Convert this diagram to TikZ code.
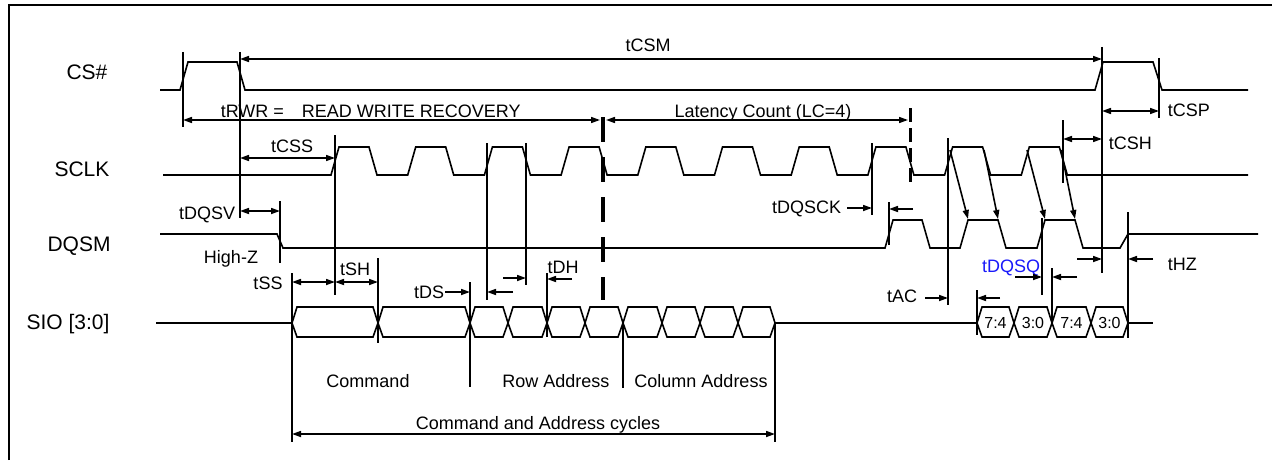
\documentclass[tikz,border=0pt]{standalone}
\usepackage{fontspec}
\setmainfont{Liberation Sans}
\usetikzlibrary{arrows.meta}
\definecolor{dqsqblue}{RGB}{25,25,250}

\newcommand{\sioword}[3]{%
  \draw (#1,323) -- (#1+5,307) -- (#2-5,307) -- (#2,323) -- (#2-5,337) -- (#1+5,337) -- cycle;
  \node[font=\fontsize{8}{9}\selectfont] at ({(#1+#2)/2},328.5) {#3};}

\begin{document}
\begin{tikzpicture}[x=0.5pt, y=-0.5pt, line width=0.8pt, >={Triangle[length=4.5pt,width=3pt]}]

\tikzstyle{every node} = [inner sep=0pt, anchor=base, font=\fontsize{9}{11}\selectfont]
\tikzstyle{signame} = [font=\fontsize{10.5}{12}\selectfont]
\tikzstyle{refline} = [line width=0.6pt]

\useasboundingbox (0,0) rectangle (1272,460);
\draw[line width=1pt] (9,460) -- (9,5) -- (1272,5);

\node[signame] (cs) at (87,80) {CS\#};
\node[signame] (sclk) at (82,176) {SCLK};
\node[signame] (dqsm) at (79,251) {DQSM};
\node[signame] (sio) at (68,329) {SIO [3:0]};

\draw (160,90) -- (180,90) -- (188,62) -- (237,62) -- (245,90) -- (1095,90) -- (1103,62)
  -- (1153,62) -- (1162,90) -- (1248,90);

\draw (163,175) -- (331,175)
  -- (339,147) -- (369,147) -- (377,175) -- (407.7,175)
  -- (415.7,147) -- (445.7,147) -- (453.7,175) -- (484.4,175)
  -- (492.4,147) -- (522.4,147) -- (530.4,175) -- (561.1,175)
  -- (569.1,147) -- (599.1,147) -- (607.1,175) -- (637.8,175)
  -- (645.8,147) -- (675.8,147) -- (683.8,175) -- (714.5,175)
  -- (722.5,147) -- (752.5,147) -- (760.5,175) -- (791.2,175)
  -- (799.2,147) -- (829.2,147) -- (837.2,175) -- (867.9,175)
  -- (875.9,147) -- (905.9,147) -- (913.9,175) -- (944.6,175)
  -- (952.6,147) -- (982.6,147) -- (990.6,175) -- (1021.3,175)
  -- (1029.3,147) -- (1059.3,147) -- (1067.3,175) -- (1248,175);

\draw (160,234) -- (277,234) -- (283,248) -- (885,248) -- (893,220) -- (922,220) -- (930,248)
  -- (960,248) -- (968,220) -- (998,220) -- (1006,248) -- (1037,248) -- (1045,220)
  -- (1075,220) -- (1083,248) -- (1120,248) -- (1128,234) -- (1258,234);

\draw (156,323) -- (292,323);
\sioword{292}{378}{}
\sioword{378}{470}{}
\sioword{470}{508}{}
\sioword{508}{547}{}
\sioword{547}{585}{}
\sioword{585}{623}{}
\sioword{623}{662}{}
\sioword{662}{700}{}
\sioword{700}{738}{}
\sioword{738}{775}{}
\draw (775,323) -- (977,323);
\sioword{977}{1014}{7:4}
\sioword{1014}{1052}{3:0}
\sioword{1052}{1091}{7:4}
\sioword{1091}{1128}{3:0}
\draw (1128,323) -- (1153,323);

\draw[refline] (183,52) -- (183,127);
\draw[refline] (240,52) -- (240,218);
\draw[refline] (335,135) -- (335,295);
\draw[refline] (280,201) -- (280,263);
\draw[refline] (292,273) -- (292,442);
\draw[refline] (378,258) -- (378,343);
\draw[refline] (470,282) -- (470,387);
\draw[refline] (487,143) -- (487,300);
\draw[refline] (526,143) -- (526,285);
\draw[refline] (547,273) -- (547,337);
\draw[refline] (623,323) -- (623,388);
\draw[refline] (775,323) -- (775,442);
\draw[refline] (872,143) -- (872,215);
\draw[refline] (889,202) -- (889,245);
\draw[refline] (948,138) -- (948,305);
\draw[refline] (977,290) -- (977,335);
\draw[refline] (1042,218) -- (1042,295);
\draw[refline] (1052,268) -- (1052,323);
\draw[refline] (1063,120) -- (1063,183);
\draw[refline] (1102,47) -- (1102,273);
\draw[refline] (1128,212) -- (1128,338);
\draw[refline] (1159,58) -- (1159,118);

\draw[line width=2pt, dash pattern=on 12.5pt off 7.5pt] (603,117) -- (603,300);
\draw[line width=1.5pt, dash pattern=on 7pt off 3pt] (910,108) -- (910,185);

\node (tcsm) at (648,52) {tCSM};
\draw[<->] (240,59) -- (1102,59);
\node[anchor=base west] (trwr) at (220,118) {tRWR =\hspace{9pt}READ WRITE RECOVERY};
\draw[<->] (183,120) -- (600,120);
\node (lc) at (763,118) {Latency Count (LC=4)};
\draw[<->] (606,120) -- (908,120);
\node[anchor=base west] (tcsp) at (1167,117) {tCSP};
\draw[<->] (1102,111) -- (1159,111);
\node[anchor=base west] (tcsh) at (1108,149) {tCSH};
\draw[<->] (1063,139) -- (1102,139);
\node (tcss) at (292,152) {tCSS};
\draw[<->] (240,158) -- (335,158);

\node[anchor=base east] (tdqsv) at (236,219) {tDQSV};
\draw[<->] (240,211) -- (280,211);
\node (hiz) at (231,263) {High-Z};

\node[anchor=base east] (tdqsck) at (842,213) {tDQSCK};
\draw[->] (847,208) -- (872,208);
\draw[->] (913,209) -- (889,209);

\draw[->] (950,150) -- (968,219);
\draw[->] (984,150) -- (998,219);
\draw[->] (1027,150) -- (1045,219);
\draw[->] (1061,150) -- (1075,219);

\node (tac) at (902,302) {tAC};
\draw[->] (925,298) -- (948,298);
\draw[->] (1000,298) -- (977,298);
\node[text=dqsqblue] (tdqsq) at (1011,272) {tDQSQ};
\draw[->] (1015,277) -- (1042,277);
\draw[->] (1077,277) -- (1052,277);
\draw[->] (1077,259) -- (1102,259);
\draw[->] (1153,259) -- (1128,259);
\node[anchor=base west] (thz) at (1167,270) {tHZ};

\node (tss) at (268,289) {tSS};
\draw[<->] (292,282) -- (335,282);
\node (tsh) at (355,275) {tSH};
\draw[<->] (335,282) -- (378,282);
\node (tds) at (429,298) {tDS};
\draw[->] (445,292) -- (470,292);
\draw[->] (513,292) -- (487,292);
\draw[->] (503,278) -- (526,278);
\node (tdh) at (563,273) {tDH};
\draw[->] (572,279) -- (547,279);

\node (cmd) at (368,387) {Command};
\node (row) at (556,387) {Row Address};
\node (col) at (701,387) {Column Address};
\node (cac) at (538,429) {Command and Address cycles};
\draw[<->] (292,434) -- (775,434);

\end{tikzpicture}
\end{document}
